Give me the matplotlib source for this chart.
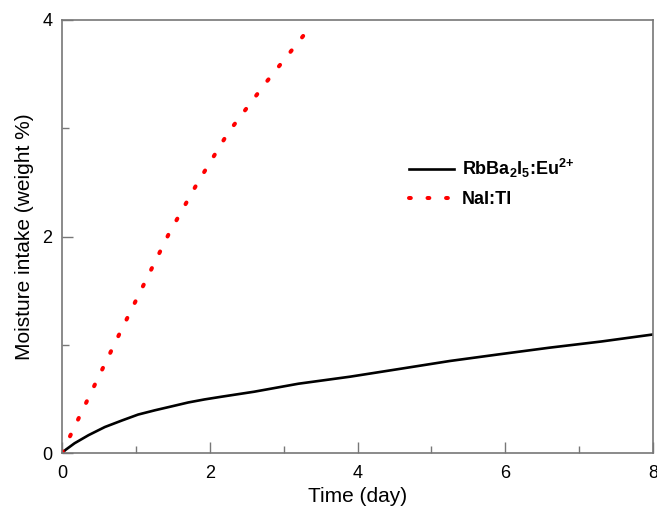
import matplotlib
matplotlib.use("Agg")
import matplotlib.pyplot as plt

# RbBa2I5:Eu2+ moisture intake
rb_time = [0, 0.05, 0.17, 0.36, 0.58, 0.81, 1.03, 1.26, 1.48, 1.71, 1.93, 2.16, 2.6, 3.2,
           3.9, 4.6, 5.25, 5.9, 6.6, 7.3, 8.0]
rb_value = [0, 0.03, 0.09, 0.165, 0.24, 0.30, 0.355, 0.395, 0.43, 0.467, 0.495, 0.52, 0.566,
            0.64, 0.705, 0.78, 0.85, 0.91, 0.973, 1.03, 1.095]

# NaI:Tl moisture intake
nai_time = [0, 0.11, 0.44, 0.77, 1.11, 1.45, 1.83, 2.25, 2.77, 3.32, 3.36]
nai_value = [0, 0.157, 0.625, 1.09, 1.56, 2.03, 2.49, 2.96, 3.43, 3.90, 3.93]

x_ticks = [0, 2, 4, 6, 8]
y_ticks = [0, 2, 4]

plt.rcParams['font.family'] = ['Liberation Sans', 'DejaVu Sans']
plt.rcParams['mathtext.fontset'] = 'custom'
plt.rcParams['mathtext.rm'] = 'Liberation Sans'
plt.rcParams['mathtext.bf'] = 'Liberation Sans:bold'
plt.rcParams['mathtext.it'] = 'Liberation Sans:italic'

fig = plt.figure(figsize=(6.57, 5.07), dpi=100)
ax = fig.add_axes([62/657, 1-453/507, (653-62)/657, (453-20)/507])

ax.plot(rb_time, rb_value, color='black', lw=1.9,
        label=r'RbBa$_\mathbf{2}$I$_\mathbf{5}$:Eu$^{\mathbf{2{+}}}$')
ax.plot(nai_time, nai_value, color='red', lw=2.9, linestyle=(0, (0.45, 4.15)),
        dash_capstyle='round', label='NaI:Tl')

ax.set_xlim(0, 8)
ax.set_ylim(0, 4)
ax.set_xticks(x_ticks)
ax.set_yticks(y_ticks)
ax.set_xticks([1, 3, 5, 7], minor=True)
ax.set_yticks([1, 3], minor=True)
ax.tick_params(which='both', direction='in', color='#777777', labelsize=13)
ax.tick_params(axis='x', which='major', pad=9)
ax.tick_params(axis='y', which='major', pad=7)
ax.tick_params(which='major', length=8, width=1)
ax.tick_params(which='minor', length=5, width=1)
for s in ax.spines.values():
    s.set_color('#777777')
    s.set_linewidth(1.2)

ax.set_xlabel('Time (day)', fontsize=15, labelpad=3)
ax.set_ylabel('Moisture intake (weight %)', fontsize=15, labelpad=6)

leg = ax.legend(loc='center left', bbox_to_anchor=(0.587, 0.625), frameon=False,
                borderaxespad=0, borderpad=0, handlelength=2.5, handletextpad=0.45,
                labelspacing=0.6, prop={'weight': 'bold', 'size': 13})

fig.savefig('out.png', dpi=100)
